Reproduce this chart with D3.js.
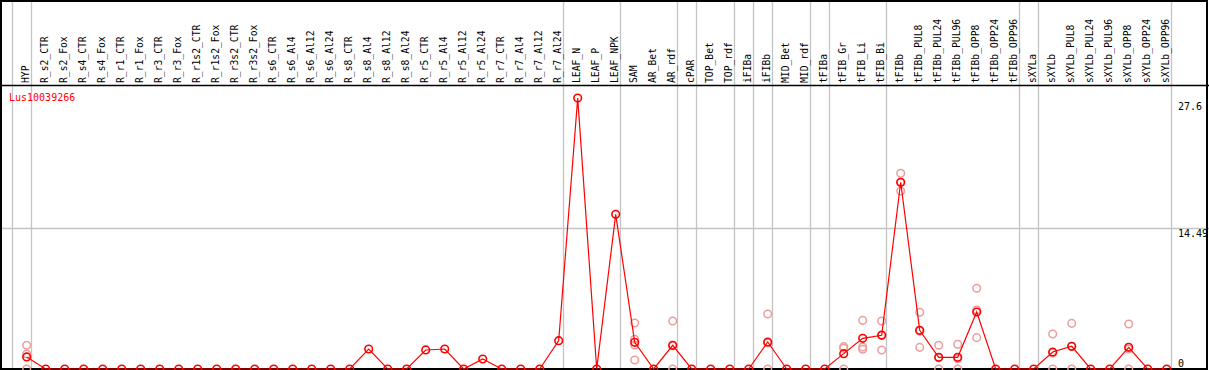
<!DOCTYPE html>
<html><head><meta charset="utf-8">
<script src="https://cdn.jsdelivr.net/npm/d3@7"></script>
<style>body{margin:0;background:#fff}svg{display:block}text{font-family:"DejaVu Sans Mono",monospace;font-size:10px}</style>
</head><body><svg id="c" width="1209" height="370"></svg>
<script>
const categories = ["HYP","R_s2_CTR","R_s2_Fox","R_s4_CTR","R_s4_Fox","R_r1_CTR","R_r1_Fox","R_r3_CTR","R_r3_Fox","R_r1s2_CTR","R_r1s2_Fox","R_r3s2_CTR","R_r3s2_Fox","R_s6_CTR","R_s6_Al4","R_s6_Al12","R_s6_Al24","R_s8_CTR","R_s8_Al4","R_s8_Al12","R_s8_Al24","R_r5_CTR","R_r5_Al4","R_r5_Al12","R_r5_Al24","R_r7_CTR","R_r7_Al4","R_r7_Al12","R_r7_Al24","LEAF_N","LEAF_P","LEAF_NPK","SAM","AR_Bet","AR_rdf","cPAR","TOP_Bet","TOP_rdf","iFIBa","iFIBb","MID_Bet","MID_rdf","tFIBa","tFIB_Gr","tFIB_Li","tFIB_Bi","tFIBb","tFIBb_PUL8","tFIBb_PUL24","tFIBb_PUL96","tFIBb_OPP8","tFIBb_OPP24","tFIBb_OPP96","sXYLa","sXYLb","sXYLb_PUL8","sXYLb_PUL24","sXYLb_PUL96","sXYLb_OPP8","sXYLb_OPP24","sXYLb_OPP96"];
const means = [1.24,0,0,0,0,0,0,0,0,0,0,0,0,0,0,0,0,0,2.06,0,0,1.96,2.06,0,1.03,0,0,0,2.92,27.9,0,15.93,2.75,0,2.44,0,0,0,0,2.78,0,0,0,1.58,3.16,3.47,19.23,3.98,1.2,1.2,5.87,0,0,0,1.75,2.34,0,0,2.23,0,0];
const replicateCats = ["HYP","SAM","AR_rdf","iFIBb","tFIB_Gr","tFIB_Li","tFIB_Bi","tFIBb","tFIBb_PUL8","tFIBb_PUL24","tFIBb_PUL96","tFIBb_OPP8","sXYLb","sXYLb_PUL8","sXYLb_OPP8"];
const replicateVals = [[2.44,1.54,0],[4.74,3.06,2.47,0.93],[4.94,2.38,0],[5.66,2.68,0],[2.3,2.13,0],[5.01,2.27,2.03],[4.94,1.96,3.51],[20.15,18.33,19.2],[5.84,2.23,3.9],[2.44,0,1.16],[2.54,0,1.06],[8.31,3.23,6.07],[3.6,0,1.65],[4.7,0,2.32],[4.63,0,2.06]];
const groupEnds = ["HYP","R_r7_Al24","LEAF_NPK","AR_rdf","cPAR","TOP_rdf","iFIBa","iFIBb","MID_rdf","tFIBa","tFIB_Bi","tFIBb_OPP96","sXYLa","sXYLb_OPP96"];
const yTicks = [0, 14.49, 27.6];
const gridTicks = [14.49];
const geneName = "Lus10039266";

const svg = d3.select("#c");
const x = d3.scalePoint().domain(categories).range([26.7, 1166.7]);
const y = d3.scaleLinear().domain([0, 14.49]).range([369, 228.3]);

// group separators
const sepX = [x(categories[0]) - x.step() + 4].concat(groupEnds.map(c => x(c) + 4));
svg.append("g").selectAll("line").data(sepX).join("line")
  .attr("x1", d => Math.round(d) + 0.5).attr("x2", d => Math.round(d) + 0.5)
  .attr("y1", 0).attr("y2", 370).attr("stroke", "#c4c4c4").attr("stroke-width", 1.3);

// horizontal grid
svg.append("g").selectAll("line").data(gridTicks).join("line")
  .attr("x1", 0).attr("x2", 1209)
  .attr("y1", d => Math.round(y(d)) + 0.5).attr("y2", d => Math.round(y(d)) + 0.5)
  .attr("stroke", "#c4c4c4").attr("stroke-width", 1.3);

// frame
svg.append("rect").attr("x", 1).attr("y", 1).attr("width", 1206).attr("height", 368)
  .attr("fill", "none").attr("stroke", "#000").attr("stroke-width", 2);
svg.append("line").attr("x1", 0).attr("x2", 1209).attr("y1", 85.5).attr("y2", 85.5)
  .attr("stroke", "#000").attr("stroke-width", 1.6);

// category labels
svg.append("g").selectAll("text").data(categories).join("text")
  .attr("text-anchor", "start")
  .attr("transform", d => `translate(${x(d) + 2.5},83) rotate(-90)`)
  .style("font-size", "9.7px")
  .attr("fill", "#000")
  .text(d => d);

// title
svg.append("text").attr("x", 9).attr("y", 100.5).attr("fill", "#ff0000").text(geneName);

// replicates
const reps = [];
replicateCats.forEach((c, i) => replicateVals[i].forEach(v => reps.push({c, v})));
svg.append("g").selectAll("circle").data(reps).join("circle")
  .attr("cx", d => x(d.c)).attr("cy", d => y(d.v)).attr("r", 3.8)
  .attr("fill", "none").attr("stroke", "#ee9c9c").attr("stroke-width", 1.5);

// line
const pts = categories.map((c, i) => ({c, v: means[i]}));
svg.append("path").datum(pts)
  .attr("d", d3.line().x(d => x(d.c)).y(d => y(d.v)))
  .attr("fill", "none").attr("stroke", "#ff0000").attr("stroke-width", 1.2);

// mean markers
svg.append("g").selectAll("circle").data(pts).join("circle")
  .attr("cx", d => x(d.c)).attr("cy", d => y(d.v)).attr("r", 3.8)
  .attr("fill", "none").attr("stroke", "#ff0000").attr("stroke-width", 1.6);

// y labels, drawn over the right border as in the reference
svg.append("g").selectAll("text").data(yTicks).join("text")
  .attr("x", 1178).attr("y", d => Math.min(y(d) + 8.5, 366.5))
  .attr("fill", "#000").text(d => d);
</script></body></html>
